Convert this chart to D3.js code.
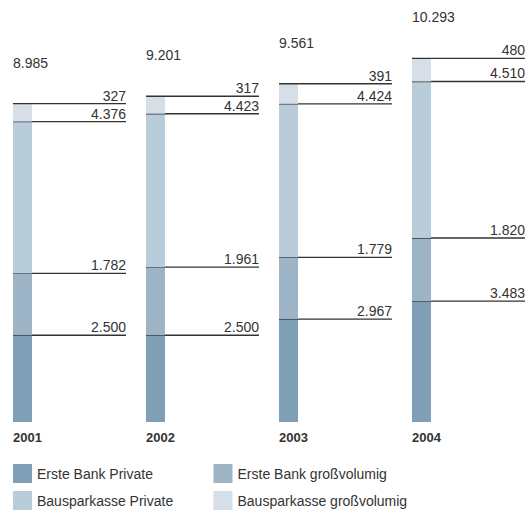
<!DOCTYPE html>
<html>
<head>
<meta charset="utf-8">
<script src="https://cdn.jsdelivr.net/npm/d3@7"></script>
<style>
  body { margin: 0; background: #fff; }
  svg text { font-family: "Liberation Sans", Arial, sans-serif; fill: #333; }
</style>
</head>
<body>
<script>
// data
const years = ['2001', '2002', '2003', '2004'];
const seriesNames = ['Erste Bank Private', 'Erste Bank großvolumig', 'Bausparkasse Private', 'Bausparkasse großvolumig'];
const ebPrivate = [2500, 2500, 2967, 3483];
const ebGross = [1782, 1961, 1779, 1820];
const bkPrivate = [4376, 4423, 4424, 4510];
const bkGross = [327, 317, 391, 480];
const totals = [8985, 9201, 9561, 10293];
const colors = ['#7f9fb6', '#9db3c6', '#b8ccd9', '#d6dee8'];

const WIDTH = 531;
const HEIGHT = 513;
const BAR_W = 19;
const LINE_W = 113;
const TOP_GAP = 6.5; // extra room for the small top segment label

const fmt = v => d3.format(',')(v).replace(/,/g, '.');

const rows = years.map((y, i) => ({
  year: y,
  [seriesNames[0]]: ebPrivate[i],
  [seriesNames[1]]: ebGross[i],
  [seriesNames[2]]: bkPrivate[i],
  [seriesNames[3]]: bkGross[i],
  total: totals[i]
}));

const stack = d3.stack().keys(seriesNames);
const series = stack(rows);

const x = d3.scalePoint().domain(years).range([13, 412]);
const y = d3.scaleLinear().domain([0, 10000]).range([422, 75]);
const color = d3.scaleOrdinal().domain(seriesNames).range(colors);

const svg = d3.select('body')
  .append('svg')
  .attr('width', WIDTH)
  .attr('height', HEIGHT);

// top edge of a segment, last series gets some extra room
function segTop(s, d) {
  return s.index === seriesNames.length - 1 ? y(d[1]) - TOP_GAP : y(d[1]);
}

const groups = svg.selectAll('g.series')
  .data(series)
  .enter()
  .append('g')
  .attr('class', 'series');

groups.selectAll('rect')
  .data(s => s.map(d => ({ s: s, d: d })))
  .enter()
  .append('rect')
  .attr('x', o => x(o.d.data.year))
  .attr('width', BAR_W)
  .attr('y', o => segTop(o.s, o.d))
  .attr('height', o => y(o.d[0]) - segTop(o.s, o.d))
  .attr('fill', o => color(o.s.key));

groups.selectAll('line')
  .data(s => s.map(d => ({ s: s, d: d })))
  .enter()
  .append('line')
  .attr('x1', o => x(o.d.data.year))
  .attr('x2', o => x(o.d.data.year) + LINE_W)
  .attr('y1', o => segTop(o.s, o.d))
  .attr('y2', o => segTop(o.s, o.d))
  .attr('stroke', '#333')
  .attr('stroke-width', 1.3);

groups.selectAll('text')
  .data(s => s.map(d => ({ s: s, d: d })))
  .enter()
  .append('text')
  .attr('x', o => x(o.d.data.year) + LINE_W)
  .attr('y', o => segTop(o.s, o.d) - 3)
  .attr('text-anchor', 'end')
  .attr('font-size', '14px')
  .text(o => fmt(o.d.data[o.s.key]));

// totals
const topSeries = series[series.length - 1];
svg.selectAll('text.total')
  .data(topSeries)
  .enter()
  .append('text')
  .attr('class', 'total')
  .attr('x', d => x(d.data.year))
  .attr('y', d => segTop(topSeries, d) - 36)
  .attr('font-size', '14px')
  .text(d => fmt(d.data.total));

// year labels
svg.selectAll('text.year')
  .data(years)
  .enter()
  .append('text')
  .attr('class', 'year')
  .attr('x', d => x(d))
  .attr('y', 442)
  .attr('font-size', '13px')
  .attr('font-weight', 'bold')
  .text(d => d);

// legend
const legend = svg.selectAll('g.legend')
  .data(seriesNames)
  .enter()
  .append('g')
  .attr('class', 'legend')
  .attr('transform', (d, i) => 'translate(' + (i % 2 === 0 ? 13 : 213.5) + ',' + (464 + Math.floor(i / 2) * 27) + ')');

legend.append('rect')
  .attr('width', 19)
  .attr('height', 19)
  .attr('fill', d => color(d));

legend.append('text')
  .attr('x', 24)
  .attr('y', 15)
  .attr('font-size', '14px')
  .text(d => d);
</script>
</body>
</html>
